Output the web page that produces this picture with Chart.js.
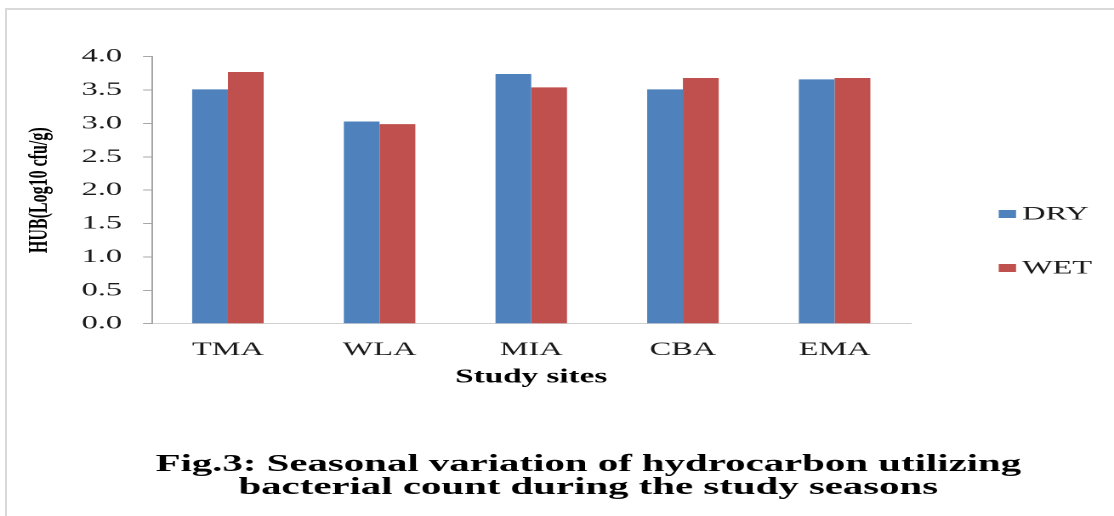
<!DOCTYPE html>
<html>
<head>
<meta charset="utf-8">
<script src="https://cdn.jsdelivr.net/npm/chart.js@4/dist/chart.umd.min.js"></script>
<style>
  html, body { margin: 0; padding: 0; background: #ffffff; width: 1114px; height: 516px; overflow: hidden; }
  #frame { position: absolute; left: 5px; top: 8px; right: -10px; bottom: -10px; border-left: 2px solid #d9d9d9; border-top: 2px solid #d9d9d9; }
  #c { position: absolute; left: 0; top: 0; display: block; }
</style>
</head>
<body>
<div id="frame"></div>
<canvas id="c" width="655" height="516" style="width:1114px;height:516px;"></canvas>
<script>
// ---- data ----
const categories = ['TMA', 'WLA', 'MIA', 'CBA', 'EMA'];
const dryValues = [3.51, 3.03, 3.74, 3.51, 3.66];
const wetValues = [3.77, 2.99, 3.54, 3.68, 3.68];
const seriesNames = ['DRY', 'WET'];
const yTickLabels = ['0.0', '0.5', '1.0', '1.5', '2.0', '2.5', '3.0', '3.5', '4.0'];
const yAxisTitle = 'HUB(Log10 cfu/g)';
const xAxisTitle = 'Study sites';
const captionLines = [
  'Fig.3: Seasonal variation of hydrocarbon utilizing',
  'bacterial count during the study seasons'
];

const SERIF = "'Liberation Serif', 'Times New Roman', serif";
const TEXT = '#1a1a1a';

const annotate = {
  id: 'annotate',
  afterDraw(chart) {
    const ctx = chart.ctx;
    ctx.save();
    // legend (right side)
    ctx.font = '19px ' + SERIF;
    ctx.textAlign = 'left';
    ctx.textBaseline = 'middle';
    chart.data.datasets.forEach((ds, i) => {
      const cy = 214 + i * 54;
      ctx.fillStyle = ds.backgroundColor;
      ctx.fillRect(587.2, cy - 4, 10.2, 8);
      ctx.fillStyle = TEXT;
      ctx.fillText(ds.label, 601, cy + 0.6);
    });
    // figure caption
    ctx.font = 'bold 24px ' + SERIF;
    ctx.textAlign = 'center';
    ctx.textBaseline = 'alphabetic';
    ctx.fillStyle = '#000000';
    captionLines.forEach((t, i) => ctx.fillText(t, 345.9, 471 + i * 23));
    ctx.restore();
  }
};

new Chart(document.getElementById('c'), {
  type: 'bar',
  data: {
    labels: categories,
    datasets: [
      { label: seriesNames[0], data: dryValues, backgroundColor: '#4F81BD', borderWidth: 0 },
      { label: seriesNames[1], data: wetValues, backgroundColor: '#C0504D', borderWidth: 0 }
    ]
  },
  options: {
    responsive: false,
    devicePixelRatio: 2,
    animation: false,
    events: [],
    categoryPercentage: 0.4716,
    barPercentage: 1.0,
    layout: { padding: { left: 13.9, right: 119.7, top: 56.7, bottom: 126.8 } },
    plugins: {
      legend: { display: false },
      title: { display: false },
      tooltip: { enabled: false }
    },
    scales: {
      x: {
        grid: { display: false, drawTicks: false },
        border: { display: true, color: '#d0d0d0', width: 1 },
        ticks: { color: TEXT, font: { family: SERIF, size: 19 }, padding: 14.9, maxRotation: 0 },
        title: {
          display: true, text: xAxisTitle, color: '#000000',
          font: { family: SERIF, size: 19.5, weight: 'bold' },
          padding: { top: -10.5, bottom: 0 }
        }
      },
      y: {
        min: 0, max: 4,
        grid: { display: true, drawOnChartArea: false, drawTicks: true, tickLength: 5.3, color: '#a6a6a6', lineWidth: 1 },
        border: { display: true, color: '#a6a6a6', width: 1 },
        ticks: {
          stepSize: 0.5, color: TEXT, padding: 12.3,
          font: { family: SERIF, size: 19 },
          callback: (v, i) => yTickLabels[i]
        },
        title: {
          display: true, text: yAxisTitle, color: '#000000',
          font: { family: SERIF, size: 16, weight: 'bold' },
          padding: { top: 0, bottom: 2.65 }
        }
      }
    }
  },
  plugins: [annotate]
});
</script>
</body>
</html>
